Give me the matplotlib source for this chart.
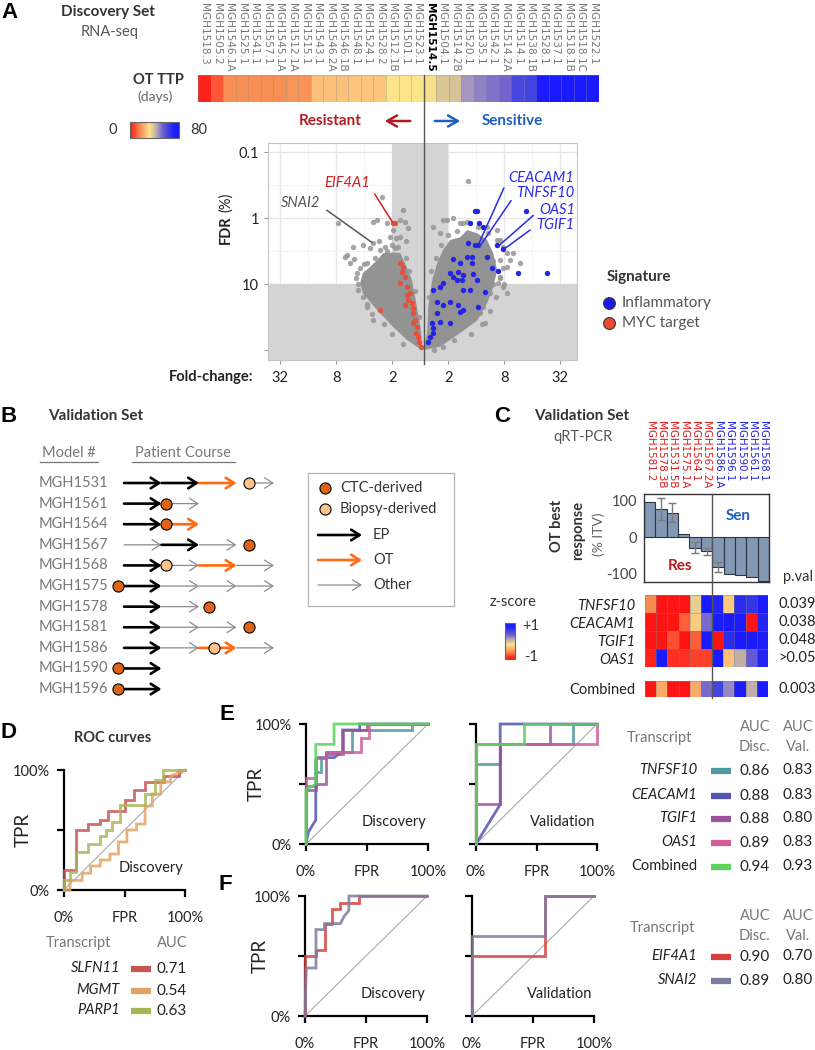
import numpy as np
import matplotlib
matplotlib.use('Agg')
import matplotlib.pyplot as plt
from matplotlib.colors import LinearSegmentedColormap, Normalize
from matplotlib.cm import ScalarMappable
from matplotlib.lines import Line2D
from matplotlib.patches import FancyArrowPatch
from matplotlib.transforms import blended_transform_factory

# ---------------- data ----------------
# A: discovery set, OT time to progression (days)
ttp_samples = ['MGH1518.3', 'MGH1505.2', 'MGH1546.1A', 'MGH1525.1', 'MGH1541.1', 'MGH1557.1',
               'MGH1545.1A', 'MGH1512.1A', 'MGH1515.1', 'MGH1543.1', 'MGH1546.2A', 'MGH1546.1B',
               'MGH1548.1', 'MGH1524.1', 'MGH1528.2', 'MGH1512.1B', 'MGH1501.1', 'MGH1523.1',
               'MGH1514.5', 'MGH1504.1', 'MGH1514.2B', 'MGH1520.1', 'MGH1535.1', 'MGH1542.1',
               'MGH1514.2A', 'MGH1514.1', 'MGH1538.1B', 'MGH1528.1', 'MGH1537.1', 'MGH1518.1B',
               'MGH1518.1C', 'MGH1522.1']
ttp_days = [2, 9, 17, 17, 17, 17, 17, 18, 18, 26, 26, 26, 27, 27, 27, 32, 32, 32, 33, 38, 39,
            46, 49, 51, 53, 61, 62, 78, 79, 80, 80, 80]
ttp_split = 18  # first sensitive-side sample

# A: volcano (log2 fold-change, -log10 FDR%)
left_cloud_lfc = [0.07, -0.46, -0.96, -1.54, -2.04, -2.14, -2.04, -1.79, -1.54, -1.32, -0.96, -0.71, -0.54, -0.29, -0.11, 0.04]
left_cloud_nl = [-2.0, -1.85, -1.65, -1.39, -1.14, -0.98, -0.83, -0.74, -0.64, -0.53, -0.52, -0.53, -0.68, -0.94, -1.35, -1.74]
right_cloud_lfc = [0.11, 0.25, 0.29, 0.43, 0.61, 0.82, 1.07, 1.43, 1.68, 2.04, 2.39, 2.61, 2.75, 2.61, 2.39, 2.04, 1.43, 0.71]
right_cloud_nl = [-2.0, -1.74, -1.35, -0.94, -0.68, -0.48, -0.33, -0.29, -0.18, -0.23, -0.33, -0.53, -0.79, -1.05, -1.29, -1.55, -1.74, -1.95]
gray_lfc = [-2.93, -1.68, -1.54, -1.18, -1.36, -0.71, -0.54, -0.96, -2.39, -2.04, -2.61, -2.68, -1.79, -1.43, -1.25, -1.0,
            -0.79, -2.25, -2.14, -1.89, -1.68, -2.5, -2.21, -2.04, -1.89, -1.68, -1.68, -1.07, -0.71, -0.61,
            -2.3, -2.2, -1.9, -1.7, -1.3, -1.0, -0.6, -2.0, -1.6, -1.2, -0.9, -0.5, -0.4, -0.2, -0.05,
            -2.35, -1.45, -0.85, -0.5, -0.45,
            1.71, 0.96, 1.18, 1.43, 1.54, 1.68, 2.07, 2.39, 2.75, 2.86, 2.43, 2.75, 2.96, 3.11, 3.32, 3.21,
            3.57, 3.11, 2.86, 2.86, 2.79, 3.11, 2.96, 2.5, 2.25, 2.32, 2.14, 0.82, 0.46, 0.71,
            0.3, 0.4, 0.55, 0.75, 1.0, 1.3, 1.9, 2.3, 2.6, 2.85, 2.7, 2.5, 2.2, 1.8, 1.2, 0.8, 0.5,
            2.95, 3.0, 2.6]
gray_nl = [-0.08, -0.06, -0.03, -0.08, 0.32, -0.03, -0.06, -0.18, -0.44, -0.41, -0.56, -0.59, -0.45, -0.48, -0.44, -0.41,
           -0.44, -0.83, -0.76, -0.68, -0.76, -0.68, -1.09, -1.2, -1.35, -1.55, -0.38, -0.29, -0.29, 0.12,
           -0.9, -1.0, -1.3, -1.45, -1.6, -1.75, -1.9, -0.7, -0.6, -0.5, -0.45, -0.6, -0.8, -1.1, -1.5,
           -0.62, -0.35, -0.3, -0.35, -0.15,
           0.56, -0.03, 0.0, -0.08, -0.08, -0.06, -0.14, -0.14, -0.18, -0.33, -0.23, -0.33, -0.44, -0.53, -0.53, -0.64,
           -0.68, -0.74, -0.64, -0.89, -0.98, -1.14, -1.05, -1.14, -1.35, -1.59, -1.44, -0.03, -0.14, -0.23,
           -1.2, -0.8, -0.6, -0.4, -0.25, -0.2, -0.3, -0.4, -0.65, -0.9, -1.2, -1.4, -1.6, -1.75, -1.85, -1.95, -2.0,
           -0.75, -1.0, -1.0]
infl_lfc = [1.96, 2.04, 1.79, 2.11, 2.25, 3.79, 1.96, 2.07, 1.71, 2.75, 2.96, 1.86, 1.68, 2.39, 1.18, 1.43, 1.86,
            2.57, 1.36, 1.54, 1.07, 1.18, 1.32, 1.5, 1.89, 2.04, 2.79, 3.5, 4.54, 0.82, 0.71, 1.79, 1.54, 2.32,
            0.46, 0.61, 1.07, 0.82, 1.36, 2.07, 0.61, 1.43, 0.71, 0.43, 1.07, 1.54, 0.46, 0.36, 0.29, 0.46]
infl_nl = [0.11, 0.11, -0.08, -0.08, -0.14, 0.11, -0.41, -0.41, -0.38, -0.41, -0.47, -0.59, -0.59, -0.59, -0.62, -0.68, -0.68,
           -0.76, -0.82, -0.86, -0.83, -0.89, -0.94, -0.94, -0.85, -0.94, -0.8, -0.83, -0.83, -0.98, -1.05, -1.09, -1.09, -1.12,
           -1.09, -1.27, -1.27, -1.32, -1.32, -1.35, -1.44, -1.42, -1.58, -1.59, -1.59, -1.39, -1.67, -1.8, -1.88, -1.74]
myc_lfc = [-0.71, -0.61, -0.64, -0.54, -0.71, -0.46, -0.36, -0.46, -0.43, -0.29, -0.54, -0.25, -0.25, -0.18,
           -0.25, -0.11, -0.14, -0.07, -0.04, 0.04, -1.43, -0.96, -0.89]
myc_nl = [-0.68, -0.74, -0.82, -0.89, -0.98, -1.05, -1.14, -1.17, -1.24, -1.29, -1.32, -1.36, -1.44, -1.55,
          -1.59, -1.65, -1.74, -1.8, -1.88, -1.95, -1.39, -0.08, -0.08]
genes = ['EIF4A1', 'SNAI2', 'CEACAM1', 'TNFSF10', 'OAS1', 'TGIF1']
gene_lfc = [-0.96, -1.68, 2.07, 2.14, 2.75, 2.96]
gene_nl = [-0.08, -0.38, -0.41, -0.42, -0.44, -0.48]

# B: patient courses
models = ['MGH1531', 'MGH1561', 'MGH1564', 'MGH1567', 'MGH1568', 'MGH1575', 'MGH1578',
          'MGH1581', 'MGH1586', 'MGH1590', 'MGH1596']
course_segments = [
    [(0, 1, 'EP'), (1, 2, 'EP'), (2, 3, 'OT'), (3.33, 4, 'Other')],
    [(0, 1, 'EP'), (1.12, 2, 'Other')],
    [(0, 1, 'EP'), (1.12, 2, 'OT')],
    [(0, 1, 'Other'), (1, 2, 'EP'), (2, 3, 'Other')],
    [(0, 1, 'EP'), (1.12, 2, 'Other'), (2, 3, 'OT'), (3, 4, 'Other')],
    [(-0.16, 1, 'EP'), (1, 2, 'Other'), (2, 3, 'Other'), (3, 4, 'Other')],
    [(0, 1, 'EP'), (1, 2, 'Other')],
    [(0, 1, 'EP'), (1, 2, 'Other'), (2, 3, 'Other')],
    [(0, 1, 'EP'), (1, 2, 'Other'), (2, 3, 'OT'), (3, 4, 'Other')],
    [(-0.16, 1, 'EP')],
    [(-0.16, 1, 'EP')],
]
course_models = [(3.33, 'Biopsy'), (1.12, 'CTC'), (1.12, 'CTC'), (3.33, 'CTC'), (1.12, 'Biopsy'),
                 (-0.16, 'CTC'), (2.27, 'CTC'), (3.33, 'CTC'), (2.4, 'Biopsy'), (-0.16, 'CTC'), (-0.16, 'CTC')]

# C: validation set
val_samples = ['MGH1581.2', 'MGH1578.3B', 'MGH1531.5B', 'MGH1575.1A', 'MGH1564.1', 'MGH1567.2A',
               'MGH1586.1A', 'MGH1596.1', 'MGH1590.1', 'MGH1561.1', 'MGH1568.1']
val_resistant = 6
best_response = [96, 78, 68, 9, -28, -38, -80, -100, -104, -109, -119]
response_err = [0, 29, 26, 0, 15, 9, 14, 0, 0, 0, 0]
zgenes = ['TNFSF10', 'CEACAM1', 'TGIF1', 'OAS1']
zscores = [[-0.6, -1, -1, -1, -0.1, 1, 0.75, -0.3, 0.7, 0.65, 1],
           [-1, -1, -1, -0.75, -0.3, 0.3, 1, 1, 0.9, -1, 0.75],
           [-1, -1, -0.8, -1, -0.75, 1, -1, 0.7, 1, 0.9, 0.9],
           [-0.95, 1, -0.9, -0.9, -0.85, -0.85, 1, -0.35, 0.05, 0.4, 0.75]]
zcombined = [-1, -0.45, -1, -1, -0.45, 0.3, 0.55, 0.2, 0.9, 0.05, 1]
pvals = ['0.039', '0.038', '0.048', '>0.05']
pval_combined = '0.003'

# D: ROC, discovery
d_names = ['SLFN11', 'MGMT', 'PARP1']
d_colors = ['#c85454', '#e3a366', '#a9b455']
d_auc = ['0.71', '0.54', '0.63']
d_fpr = [[0, 0, 10, 10, 20, 20, 30, 30, 36, 36, 50, 50, 58, 58, 67, 67, 83, 83, 95, 95, 100],
         [0, 5, 5, 15, 15, 22, 22, 30, 30, 38, 38, 45, 45, 52, 52, 60, 60, 67, 67, 73, 73, 80, 80, 88, 88, 100],
         [0, 0, 5, 5, 10, 10, 20, 20, 30, 30, 35, 35, 40, 40, 46, 46, 67, 67, 75, 75, 82, 82, 100]]
d_tpr = [[0, 17, 17, 50, 50, 55, 55, 58, 58, 66, 66, 75, 75, 83, 83, 90, 90, 95, 95, 100, 100],
         [0, 0, 8, 8, 14, 14, 20, 20, 25, 25, 30, 30, 40, 40, 50, 50, 55, 55, 70, 70, 80, 80, 90, 90, 95, 100],
         [0, 8, 8, 15, 15, 32, 32, 38, 38, 45, 45, 50, 50, 57, 57, 71, 71, 80, 80, 92, 92, 100, 100]]

# E: ROC, inflammatory transcripts
e_names = ['TNFSF10', 'CEACAM1', 'TGIF1', 'OAS1', 'Combined']
e_colors = ['#4f979e', '#5454b4', '#9a5499', '#d05c98', '#5cd35c']
e_auc_disc = ['0.86', '0.88', '0.88', '0.89', '0.94']
e_auc_val = ['0.83', '0.83', '0.80', '0.83', '0.93']
e_disc_fpr = [[0, 0, 8, 8, 12, 12, 16, 16, 38, 38, 87, 87, 100],
              [0, 2, 8, 8, 10, 23, 30, 30, 44, 44, 100],
              [0, 0, 8, 8, 16, 16, 30, 30, 50, 50, 100],
              [0, 0, 8, 8, 16, 16, 45, 45, 52, 52, 100],
              [0, 0, 8, 8, 23, 23, 100]]
e_disc_tpr = [[0, 48, 48, 60, 60, 72, 72, 77, 77, 95, 95, 100, 100],
              [0, 10, 20, 70, 72, 72, 77, 95, 95, 100, 100],
              [0, 45, 45, 50, 50, 75, 75, 95, 95, 100, 100],
              [0, 55, 55, 72, 72, 77, 77, 88, 88, 100, 100],
              [0, 45, 50, 83, 83, 100, 100]]
e_val_fpr = [[0, 0, 20, 20, 80, 80, 100],
             [0, 20, 20, 100],
             [0, 0, 20, 20, 61, 61, 100],
             [0, 0, 100, 100],
             [0, 0, 40, 40, 100]]
e_val_tpr = [[0, 67, 67, 83, 83, 100, 100],
             [0, 33, 100, 100],
             [0, 33, 33, 83, 83, 100, 100],
             [0, 83, 83, 100],
             [0, 83, 83, 100, 100]]

# F: ROC, EIF4A1 / SNAI2
f_names = ['EIF4A1', 'SNAI2']
f_colors = ['#d6403c', '#7c7ca2']
f_auc_disc = ['0.90', '0.89']
f_auc_val = ['0.70', '0.80']
f_disc_fpr = [[0, 0, 9, 9, 16, 16, 22, 22, 29, 29, 44, 44, 100],
              [0, 1, 9, 9, 16, 16, 29, 32, 36, 36, 100]]
f_disc_tpr = [[0, 50, 50, 55, 55, 77, 77, 89, 89, 94, 94, 100, 100],
              [0, 40, 40, 72, 72, 77, 77, 83, 88, 100, 100]]
f_val_fpr = [[0, 0, 60, 60, 100], [0, 0, 60, 60, 100]]
f_val_tpr = [[0, 50, 50, 100, 100], [0, 67, 67, 100, 100]]

# ---------------- helpers ----------------
W, H = 815, 1050
plt.rcParams['font.family'] = ['Lato', 'DejaVu Sans']
plt.rcParams['axes.unicode_minus'] = False
fig = plt.figure(figsize=(W / 100, H / 100), dpi=100)

DARK = '#333333'
GREY = '#777777'


def add_ax(x0, y0, x1, y1):
    return fig.add_axes([x0 / W, 1 - y1 / H, (x1 - x0) / W, (y1 - y0) / H])


def ftxt(x, y, s, **kw):
    kw.setdefault('va', 'center')
    kw.setdefault('color', DARK)
    return fig.text(x / W, 1 - y / H, s, **kw)


def fline(xs, ys, **kw):
    fig.add_artist(Line2D([x / W for x in xs], [1 - y / H for y in ys], **kw))


def farrow(x0, x1, y, color):
    fig.add_artist(FancyArrowPatch((x0 / W, 1 - y / H), (x1 / W, 1 - y / H), transform=fig.transFigure,
                                   arrowstyle='->,head_length=7,head_width=4', color=color, lw=1.8))


def panel_letter(x, y, s):
    ftxt(x, y, s, fontsize=16, fontweight='bold', family='Liberation Sans', color='black', ha='center')


cmap = LinearSegmentedColormap.from_list('ttp', [
    (0.0, '#ff1414'), (0.1, '#ff5032'), (0.2, '#f88a50'), (0.33, '#fbc27a'), (0.4, '#fce48a'),
    (0.48, '#d9c593'), (0.58, '#a294c2'), (0.66, '#7466cc'), (0.76, '#4848dc'), (0.9, '#1e1ef6'),
    (1.0, '#1a1aff')])

# ================= Panel A =================
panel_letter(9, 12, 'A')
ftxt(108, 12, 'Discovery Set', fontsize=11, fontweight='bold', ha='center')
ftxt(110, 32, 'RNA-seq', fontsize=10.5, color='#555555', ha='center')
ftxt(184, 80, 'OT TTP', fontsize=10.5, fontweight='bold', ha='right')
ftxt(173, 97, '(days)', fontsize=10, color='#666666', ha='right')

n = len(ttp_days)
ax_hm = add_ax(198, 75, 599, 102)
ax_hm.pcolormesh(np.arange(n + 1), [0, 1], np.array([ttp_days]), cmap=cmap, vmin=0, vmax=80,
                 edgecolors=(0.55, 0.55, 0.55, 0.35), linewidth=0.6)
ax_hm.set_xlim(0, n)
ax_hm.set_ylim(1, 0)
ax_hm.set_xticks([])
ax_hm.set_yticks([])
for s in ax_hm.spines.values():
    s.set_visible(False)
trans = blended_transform_factory(ax_hm.transData, fig.transFigure)
for i, name in enumerate(ttp_samples):
    bold = i == ttp_split
    ax_hm.text(i + 0.5, 1 - 3 / H, name, transform=trans, rotation=270, ha='center', va='top',
               fontsize=7.6, family='DejaVu Sans', fontweight='bold' if bold else 'normal',
               color='black' if bold else '#777777')

cax = add_ax(130, 122, 179, 138)
cb = fig.colorbar(ScalarMappable(Normalize(0, 80), cmap), cax=cax, orientation='horizontal')
cb.set_ticks([])
cb.outline.set_edgecolor('#666666')
ftxt(113, 130, '0', fontsize=10.5, ha='center')
ftxt(199, 130, '80', fontsize=10.5, ha='center')

ftxt(330, 121, 'Resistant', fontsize=11, fontweight='bold', color='#b01c22', ha='center')
farrow(413, 382, 121, '#b01c22')
ftxt(512, 121, 'Sensitive', fontsize=11, fontweight='bold', color='#1f5fbf', ha='center')
farrow(432, 463, 121, '#1f5fbf')

ax_v = add_ax(268, 143, 577, 360)
ax_v.set_xlim(-5.43, 5.6)
ax_v.set_ylim(-2.15, 1.14)
ax_v.set_axisbelow(True)
ax_v.axvspan(-1, 1, color='#d4d4d4', lw=0, zorder=1)
ax_v.axhspan(-2.15, -1, color='#d4d4d4', lw=0, zorder=1)
ax_v.set_xticks([-5, -3, -1, 1, 3, 5])
ax_v.set_xticklabels(['32', '8', '2', '2', '8', '32'])
ax_v.set_yticks([1, 0, -1, -2])
ax_v.set_yticklabels(['0.1', '1', '10', ''])
ax_v.set_xticks([-4, -2, 0, 2, 4], minor=True)
ax_v.set_yticks([0.5, -0.5, -1.5], minor=True)
ax_v.grid(True, which='major', color='#e6e6e6', lw=0.9)
ax_v.grid(True, which='minor', color='#f0f0f0', lw=0.6)
ax_v.tick_params(which='major', length=3, color='#999999', labelsize=10.5, labelcolor='#222222')
ax_v.tick_params(axis='x', pad=5)
ax_v.tick_params(which='minor', length=0)
for s in ax_v.spines.values():
    s.set_color('#c4c4c4')
ax_v.fill(left_cloud_lfc, left_cloud_nl, color='#939393', lw=0, zorder=2)
ax_v.fill(right_cloud_lfc, right_cloud_nl, color='#939393', lw=0, zorder=2)
ax_v.scatter(gray_lfc, gray_nl, s=15, color='#959595', alpha=0.85, lw=0, zorder=3)
ax_v.scatter(myc_lfc, myc_nl, s=15, color='#e8503c', lw=0, zorder=4)
ax_v.scatter(infl_lfc, infl_nl, s=15, color='#2424e6', lw=0, zorder=4)

label_pos = [(-1.8, 0.53), (-3.55, 0.23), (3.15, 0.61), (3.43, 0.38), (4.25, 0.12), (4.15, -0.11)]
label_col = ['#d0201c', '#555555', '#2a2aee', '#2a2aee', '#2a2aee', '#2a2aee']
for g, gx, gy, (tx, ty), c in zip(genes, gene_lfc, gene_nl, label_pos, label_col):
    left = tx < 0
    ax_v.annotate(g, xy=(gx, gy), xytext=(tx, ty), fontsize=10.5, style='italic', color=c,
                  ha='right' if left else 'left', va='center', zorder=6,
                  arrowprops=dict(arrowstyle='-', color=c, lw=1.1, shrinkA=3, shrinkB=1,
                                  relpos=(1, 0.3) if left else (0, 0.5)))

ftxt(253, 377, 'Fold-change:', fontsize=10.5, fontweight='bold', ha='right', color='#222222')
ftxt(226, 230, 'FDR', fontsize=10.5, fontweight='bold', rotation=90, ha='center', color='#222222')
ftxt(226, 202, '(%)', fontsize=10.5, rotation=90, ha='center', color='#222222')

# divider through heatmap and volcano
xd = ax_hm.transData.transform((ttp_split, 0))[0]
fline([xd, xd], [75, 364], color='#555555', lw=1)

ftxt(607, 277, 'Signature', fontsize=11, fontweight='bold', ha='left')
for yy, c, lab in [(303, '#1a1aee', 'Inflammatory'), (323, '#ee4a30', 'MYC target')]:
    fig.add_artist(Line2D([609 / W], [1 - yy / H], marker='o', ms=8.5, mfc=c, mec='#333333', mew=0.8))
    ftxt(622, yy, lab, fontsize=11, color='#555555', ha='left')

# ================= Panel B =================
panel_letter(9, 416, 'B')
ftxt(96, 416, 'Validation Set', fontsize=11, fontweight='bold', ha='center')
ftxt(69, 453, 'Model #', fontsize=10.5, color=GREY, ha='center')
ftxt(183, 453, 'Patient Course', fontsize=10.5, color=GREY, ha='center')
fline([40, 98], [462, 462], color=GREY, lw=0.9)
fline([132, 235], [462, 462], color=GREY, lw=0.9)

kind_style = {'EP': ('black', 1.9), 'OT': ('#ff6a13', 1.9), 'Other': ('#8c8c8c', 0.9)}
model_color = {'CTC': '#de6516', 'Biopsy': '#fbc38c'}
ax_b = add_ax(30, 470, 300, 700)
ax_b.set_xlim(-2.507, 4.693)
ax_b.set_ylim(10.53, -0.631)
ax_b.axis('off')
for i, (name, segs, (mx, mk)) in enumerate(zip(models, course_segments, course_models)):
    ax_b.text(-2.29, i, name, ha='left', va='center', fontsize=10.5, color=GREY)
    for x0, x1, kind in segs:
        c, lw = kind_style[kind]
        ax_b.annotate('', xy=(x1, i), xytext=(x0, i),
                      arrowprops=dict(arrowstyle='->,head_length=0.6,head_width=0.38', color=c, lw=lw,
                                      shrinkA=0, shrinkB=0))
    ax_b.plot(mx, i, 'o', ms=8, mfc=model_color[mk], mec='black', mew=0.8, zorder=5)

ax_bl = add_ax(308, 473, 454, 606)
ax_bl.set_xlim(0, 146)
ax_bl.set_ylim(133, 0)
ax_bl.set_xticks([])
ax_bl.set_yticks([])
for s in ax_bl.spines.values():
    s.set_color('#b0b0b0')
ax_bl.plot(17, 15, 'o', ms=8, mfc=model_color['CTC'], mec='black', mew=0.8)
ax_bl.text(32, 15, 'CTC-derived', fontsize=10.5, va='center', color=DARK)
ax_bl.plot(17, 36, 'o', ms=8, mfc=model_color['Biopsy'], mec='black', mew=0.8)
ax_bl.text(32, 36, 'Biopsy-derived', fontsize=10.5, va='center', color=DARK)
for yy, kind in [(62, 'EP'), (87, 'OT'), (112, 'Other')]:
    c, lw = kind_style[kind]
    ax_bl.annotate('', xy=(54, yy), xytext=(10, yy),
                   arrowprops=dict(arrowstyle='->,head_length=0.6,head_width=0.38', color=c, lw=lw,
                                   shrinkA=0, shrinkB=0))
    ax_bl.text(65, yy, kind, fontsize=10.5, va='center', color=DARK)

# ================= Panel C =================
panel_letter(502, 416, 'C')
ftxt(582, 416, 'Validation Set', fontsize=11, fontweight='bold', ha='center')
ftxt(583, 437, 'qRT-PCR', fontsize=10.5, color='#555555', ha='center')

m = len(val_samples)
ax_bar = add_ax(644, 494, 769, 582)
xs = np.arange(m) + 0.5
ax_bar.bar(xs, best_response, width=1, color='#8398b5', edgecolor='#2e3540', lw=0.8, zorder=2)
err = np.array(response_err)
has = err > 0
ax_bar.errorbar(xs[has], np.array(best_response)[has], yerr=err[has], fmt='none', ecolor='#7a7a7a',
                elinewidth=1, capsize=3, zorder=3)
ax_bar.set_xlim(0, m)
ax_bar.set_ylim(-122, 119)
ax_bar.set_xticks([])
ax_bar.set_yticks([100, 0, -100])
ax_bar.set_yticklabels(['100', '0', '-100'])
ax_bar.tick_params(length=0, pad=5, labelsize=10.5, labelcolor='#444444')
for s in ax_bar.spines.values():
    s.set_color('#333333')
    s.set_linewidth(1)
ax_bar.text(8.3, 60, 'Sen', fontsize=11, fontweight='bold', color='#1f5fbf', ha='center', va='center')
ax_bar.text(3.2, -78, 'Res', fontsize=11, fontweight='bold', color='#b01c22', ha='center', va='center')
transc = blended_transform_factory(ax_bar.transData, fig.transFigure)
for i, name in enumerate(val_samples):
    ax_bar.text(i + 0.5, 1 - 421 / H, name, transform=transc, rotation=270, ha='center', va='top',
                fontsize=7.4, family='DejaVu Sans',
                color='#e01818' if i < val_resistant else '#2020e0')
ftxt(557, 526, 'OT best', fontsize=10.5, fontweight='bold', rotation=90, ha='center')
ftxt(578, 530, 'response', fontsize=10.5, fontweight='bold', rotation=90, ha='center')
ftxt(599, 534, '(% ITV)', fontsize=10, rotation=90, ha='center', color='#666666')
ftxt(798, 577, 'p.val', fontsize=10.5, ha='center')

ax_hc = add_ax(645, 595, 768, 667)
ax_hc.pcolormesh(np.arange(m + 1), np.arange(len(zgenes) + 1), np.array(zscores), cmap=cmap,
                 vmin=-1, vmax=1, edgecolors=(0.5, 0.5, 0.5, 0.4), linewidth=0.6)
ax_hc.set_xlim(0, m)
ax_hc.set_ylim(len(zgenes), 0)
ax_hc.set_xticks([])
ax_hc.set_yticks(np.arange(len(zgenes)) + 0.5)
ax_hc.set_yticklabels(zgenes, style='italic')
ax_hc.tick_params(length=0, pad=7, labelsize=10.5, labelcolor='#222222')
for s in ax_hc.spines.values():
    s.set_visible(False)
for k, p in enumerate(pvals):
    ax_hc.text(m + 0.9, k + 0.5, p, fontsize=10.5, va='center', ha='left', color='#222222')

ax_cc = add_ax(645, 681, 768, 697)
ax_cc.pcolormesh(np.arange(m + 1), [0, 1], np.array([zcombined]), cmap=cmap, vmin=-1, vmax=1,
                 edgecolors=(0.5, 0.5, 0.5, 0.4), linewidth=0.6)
ax_cc.set_xlim(0, m)
ax_cc.set_ylim(1, 0)
ax_cc.set_xticks([])
ax_cc.set_yticks([0.5])
ax_cc.set_yticklabels(['Combined'])
ax_cc.tick_params(length=0, pad=7, labelsize=10.5, labelcolor='#222222')
for s in ax_cc.spines.values():
    s.set_visible(False)
ax_cc.text(m + 0.9, 0.5, pval_combined, fontsize=10.5, va='center', ha='left', color='#222222')

xc = ax_bar.transData.transform((val_resistant, 0))[0]
fline([xc, xc], [494, 698], color='#555555', lw=1)

zax = add_ax(505, 623, 515, 659)
zb = fig.colorbar(ScalarMappable(Normalize(-1, 1), cmap), cax=zax, orientation='vertical')
zb.set_ticks([])
zb.outline.set_edgecolor('#666666')
ftxt(513, 602, 'z-score', fontsize=10.5, ha='center')
ftxt(522, 626, '+1', fontsize=10.5, ha='left')
ftxt(524, 657, '-1', fontsize=10.5, ha='left')


# ================= ROC panels =================
def roc_axes(ax, label, ylab_x=None):
    ax.plot([0, 100], [0, 100], color='#ababab', lw=0.8, zorder=1)
    ax.set_xlim(0, 100)
    ax.set_ylim(0, 100)
    for s in ['top', 'right']:
        ax.spines[s].set_visible(False)
    for s in ['left', 'bottom']:
        ax.spines[s].set_linewidth(1.6)
    ax.set_xticks([0, 50, 100])
    ax.set_yticks([0, 50, 100])
    ax.set_xticklabels(['0%', 'FPR', '100%'])
    ax.get_xticklabels()[1].set_fontsize(13.5)
    if ylab_x is None:
        ax.set_yticklabels([])
    else:
        ax.set_yticklabels(['0%', '', '100%'])
        ax.set_ylabel('TPR', fontsize=13.5, color='#222222')
        ax.yaxis.set_label_coords(ylab_x, 0.5)
    ax.tick_params(direction='out', length=5, width=1.6, labelsize=10.5, labelcolor='#222222')
    ax.tick_params(axis='x', pad=10)
    ax.tick_params(axis='y', pad=5)
    ax.text(99, 18, label, ha='right', va='center', fontsize=10.5, color='#222222')


def roc_lines(ax, fprs, tprs, colors):
    for f, t, c in zip(fprs, tprs, colors):
        ax.plot(f, t, color=c, lw=2, alpha=0.85, clip_on=False, zorder=3, solid_joinstyle='miter')


def roc_legend(x_name, x_line, x_v1, x_v2, ys, names, colors, v1, v2):
    for k, (yy, nm, c, a) in enumerate(zip(ys, names, colors, v1)):
        it = 'normal' if (nm == 'Combined') else 'italic'
        ftxt(x_name, yy, nm, fontsize=10.5, style=it, ha='right', color='#222222')
        fline([x_line, x_line + 20], [yy + 1, yy + 1], color=c, lw=4.5, solid_capstyle='butt')
        ftxt(x_v1, yy + 1, a, fontsize=11, ha='center', color='#222222')
        if v2 is not None:
            ftxt(x_v2, yy, v2[k], fontsize=11, ha='center', color='#222222')


# D
panel_letter(9, 733, 'D')
ftxt(113, 738, 'ROC curves', fontsize=10.5, fontweight='bold', ha='center')
ax_d = add_ax(64, 770, 185, 890)
roc_axes(ax_d, 'Discovery', -0.27)
roc_lines(ax_d, d_fpr, d_tpr, d_colors)
ftxt(78, 943, 'Transcript', fontsize=10.5, color=GREY, ha='center')
ftxt(172, 943, 'AUC', fontsize=10.5, color=GREY, ha='center')
roc_legend(120, 131, 172, None, [968, 990, 1010], d_names, d_colors, d_auc, None)

# E
panel_letter(227, 714, 'E')
ax_e1 = add_ax(306, 724, 428, 844)
roc_axes(ax_e1, 'Discovery', -0.34)
roc_lines(ax_e1, e_disc_fpr, e_disc_tpr, e_colors)
ax_e2 = add_ax(476, 724, 597, 844)
roc_axes(ax_e2, 'Validation')
roc_lines(ax_e2, e_val_fpr, e_val_tpr, e_colors)
ftxt(659, 738, 'Transcript', fontsize=10.5, color=GREY, ha='center')
for xx, a, b in [(755, 'AUC', 'Disc.'), (798, 'AUC', 'Val.')]:
    ftxt(xx, 727, a, fontsize=10.5, color=GREY, ha='center')
    ftxt(xx, 747, b, fontsize=10.5, color=GREY, ha='center')
roc_legend(697, 711, 755, 798, [770, 795, 818, 842, 866], e_names, e_colors, e_auc_disc, e_auc_val)

# F
panel_letter(225, 884, 'F')
ax_f1 = add_ax(305, 896, 427, 1016)
roc_axes(ax_f1, 'Discovery', -0.30)
roc_lines(ax_f1, f_disc_fpr, f_disc_tpr, f_colors)
ax_f2 = add_ax(472, 896, 594, 1016)
roc_axes(ax_f2, 'Validation')
roc_lines(ax_f2, f_val_fpr, f_val_tpr, f_colors)
ftxt(662, 928, 'Transcript', fontsize=10.5, color=GREY, ha='center')
for xx, a, b in [(755, 'AUC', 'Disc.'), (798, 'AUC', 'Val.')]:
    ftxt(xx, 916, a, fontsize=10.5, color=GREY, ha='center')
    ftxt(xx, 936, b, fontsize=10.5, color=GREY, ha='center')
roc_legend(697, 711, 755, 798, [956, 980], f_names, f_colors, f_auc_disc, f_auc_val)

fig.savefig('out.png', dpi=100)
